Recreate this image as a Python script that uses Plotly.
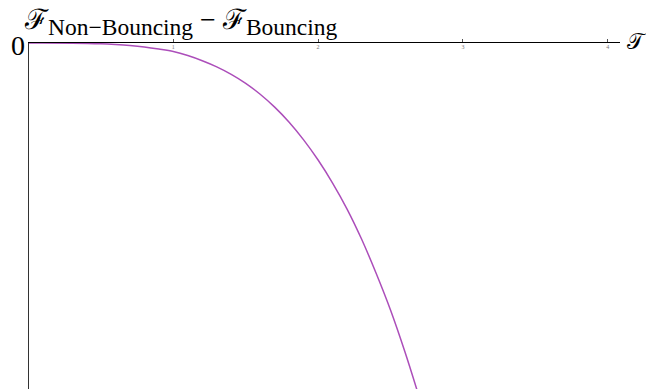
import plotly.graph_objects as go

# Data (arbitrary y units; y axis has only "0" marked)
T_vals = [0.0, 0.3, 0.5, 0.6, 0.7, 0.8, 0.9, 1.0, 1.1, 1.2, 1.3, 1.4, 1.5, 1.6, 1.7, 1.8,
          1.9, 2.0, 2.1, 2.2, 2.3, 2.4, 2.5, 2.6, 2.7]
F_diff = [0.0, -0.001, -0.007, -0.014, -0.024, -0.039, -0.06, -0.085, -0.125, -0.177, -0.238,
          -0.313, -0.403, -0.512, -0.641, -0.792, -0.968, -1.17, -1.40, -1.66, -1.96, -2.30,
          -2.67, -3.09, -3.55]
x_tick_vals = [1, 2, 3, 4]
x_tick_text = ["1", "2", "3", "4"]
y_zero_label = "0"

W, H = 646, 389
x0_px, x_end_px, y0_px = 28.5, 620, 43
px_per_unit = 144.8

fig = go.Figure()
fig.add_trace(go.Scatter(
    x=T_vals, y=F_diff, mode="lines",
    line=dict(color="rgb(172,78,186)", width=1.5, shape="spline", smoothing=1),
    showlegend=False, hoverinfo="skip"))

sub_style = "font-size:23.5px"
fig.update_layout(
    width=W, height=H, margin=dict(l=0, r=0, t=0, b=0, autoexpand=False),
    paper_bgcolor="white", plot_bgcolor="white",
    xaxis=dict(domain=[x0_px / W, x_end_px / W], range=[0, (x_end_px - x0_px) / px_per_unit],
               side="top", showline=True, linecolor="black", linewidth=1.3,
               ticks="outside", ticklen=3, tickwidth=0.8, tickcolor="#555",
               tickvals=x_tick_vals, ticktext=x_tick_text, ticklabelposition="inside",
               tickfont=dict(size=6, color="#777", family="Liberation Serif"),
               showgrid=False, zeroline=False, automargin=False),
    yaxis=dict(domain=[0, (H - y0_px) / H], range=[-3.46, 0.0005],
               showline=True, linecolor="#333", linewidth=1.3, ticks="",
               showticklabels=False,
               showgrid=False, zeroline=False, automargin=False),
    annotations=[
        dict(text=f"ℱ<sub><span style='{sub_style}'>Non−Bouncing</span></sub> − "
                  f"ℱ<sub><span style='{sub_style}'>Bouncing</span></sub>",
             xref="paper", yref="paper", borderpad=0,
             x=23 / W, y=1 - 41 / H, xanchor="left", yanchor="bottom", showarrow=False,
             font=dict(size=28, family="Liberation Serif", color="black")),
        dict(text=y_zero_label, xref="x", yref="y", x=0, y=0, xanchor="right", yanchor="middle",
             xshift=-2, yshift=-2, showarrow=False,
             font=dict(size=28, family="Liberation Serif", color="black")),
        dict(text="𝒯", xref="paper", yref="paper", x=625 / W, y=1 - 41 / H,
             xanchor="left", yanchor="middle", showarrow=False,
             font=dict(size=22, family="Liberation Serif", color="black")),
    ],
)

fig.write_html("out.html", config={"displayModeBar": False},
               post_script="document.body.style.margin='0';document.body.style.padding='0';")
